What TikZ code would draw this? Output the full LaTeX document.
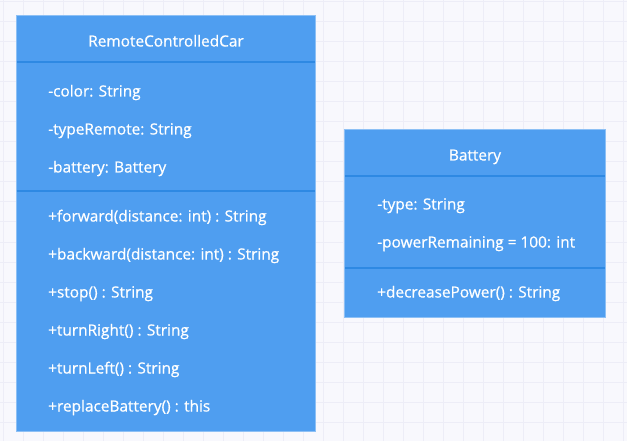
\documentclass[tikz,border=0pt]{standalone}
\usepackage{fontspec}
\setmainfont{Open Sans}
\newfontfamily\umlfont{Open Sans}[BoldFont={Open Sans}, BoldFeatures={FakeBold=0.7}]
\usepackage{tikz}
\usepackage{xcolor}
\definecolor{umlblue}{HTML}{4F9EF0}
\definecolor{umlrule}{HTML}{2E89E3}
\definecolor{umledge}{HTML}{8DC0F5}
\definecolor{paper}{HTML}{F8F8FD}
\definecolor{gridline}{HTML}{EDEDF7}

\begin{document}
\begin{tikzpicture}[x=1pt, y=-1pt,
  txt/.style={text=white, inner sep=0pt, anchor=base, font=\fontsize{15.4}{17}\umlfont\bfseries},
  attr/.style={txt, anchor=base west},
  classbox/.style={fill=umlblue, draw=umledge, line width=0.8pt},
  divider/.style={draw=umlrule, line width=2pt}]
 \useasboundingbox[fill=paper] (0,0) rectangle (627,441);
 \begin{scope}
 \clip (0,0) rectangle (627,441);
 \foreach \gx in {3,23,...,623} \draw[gridline] (\gx,0) -- (\gx,441);
 \foreach \gy in {1.7,21.7,...,441} \draw[gridline] (0,\gy) -- (627,\gy);
 \end{scope}
 % RemoteControlledCar
 \draw[classbox] (16,15) rectangle (315,431);
 \draw[divider] (16.5,62) -- (314.5,62);
 \draw[divider] (16.5,191.5) -- (314.5,191.5);
 \node[txt] (car) at (166,46.5) {RemoteControlledCar};
 \node[attr] (color) at (48,96.5) {-color: String};
 \node[attr] (remote) at (48,134.5) {-typeRemote: String};
 \node[attr] (batt) at (48,172.5) {-battery: Battery};
 \node[attr] (fwd) at (48,221.5) {+forward(distance: int) : String};
 \node[attr] (bwd) at (48,259.5) {+backward(distance: int) : String};
 \node[attr] (stop) at (48,297.5) {+stop() : String};
 \node[attr] (right) at (48,335.5) {+turnRight() : String};
 \node[attr] (left) at (48,373.5) {+turnLeft() : String};
 \node[attr] (replace) at (48,411.5) {+replaceBattery() : this};
 % Battery
 \draw[classbox] (344.5,129.5) rectangle (605.5,317);
 \draw[divider] (345,176) -- (605,176);
 \draw[divider] (345,268) -- (605,268);
 \node[txt] (battery) at (475,160.5) {Battery};
 \node[attr] (type) at (377,209.5) {-type: String};
 \node[attr] (power) at (377,247.5) {-powerRemaining = 100: int};
 \node[attr] (decrease) at (377,297.5) {+decreasePower() : String};
\end{tikzpicture}
\end{document}
